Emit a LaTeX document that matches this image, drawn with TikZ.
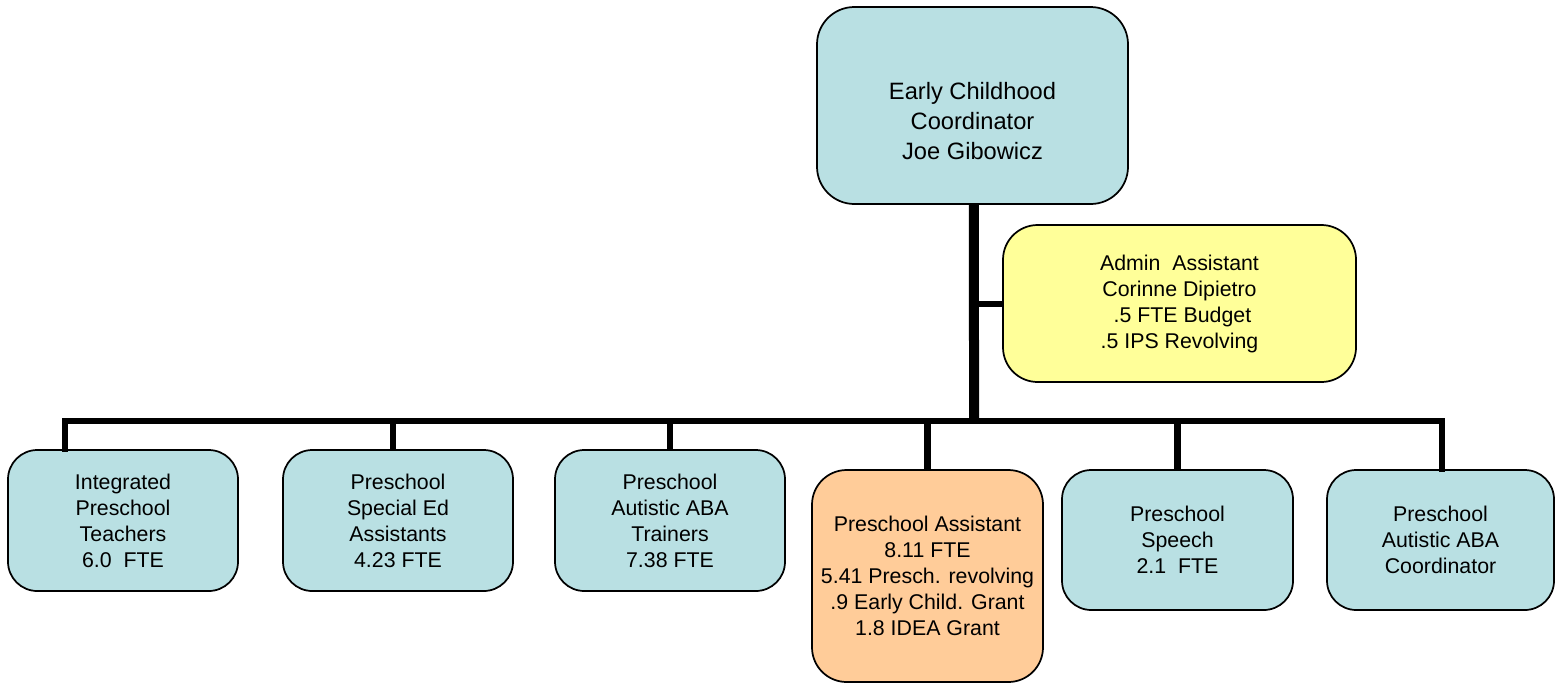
\documentclass[tikz,border=0pt]{standalone}
\usepackage{fontspec}
\setmainfont{Liberation Sans}
\usetikzlibrary{calc}
\definecolor{boxblue}{RGB}{185,224,227}
\definecolor{boxyellow}{RGB}{255,255,153}
\definecolor{boxorange}{RGB}{255,204,153}
\tikzset{
  box/.style={draw=black, line width=1.3pt, rounded corners=22pt, align=center, inner sep=0pt,
              font=\fontsize{16pt}{19.5pt}\selectfont},
  conn/.style={draw=black, line width=4.5pt, line join=miter, line cap=rect},
  mainconn/.style={draw=black, line width=7.5pt},
}
\begin{document}
\begin{tikzpicture}[x=0.75pt,y=-0.75pt]
\useasboundingbox (0,0) rectangle (1556,683);
% top box
\node[box, fill=boxblue, rounded corners=28pt, minimum width=233.25pt, minimum height=147.75pt] (top) at (972.5,105.5) {};
\node[align=center, font=\fontsize{17.75pt}{22.5pt}\selectfont] (toptext) at (972.5,121) {Early Childhood\\Coordinator\\Joe Gibowicz};
% admin
\node[box, fill=boxyellow, rounded corners=26pt, minimum width=264.75pt, minimum height=117.75pt] (admin) at (1179.5,303.5)
  {Admin\ \ Assistant\\Corinne Dipietro\\\ .5 FTE Budget\\.5 IPS Revolving};
% bottom boxes
\node[box, fill=boxblue, minimum width=172.5pt, minimum height=105.75pt] (b1) at (123,520.5)
  {Integrated\\Preschool\\Teachers\\6.0\ \ FTE};
\node[box, fill=boxblue, minimum width=172.5pt, minimum height=105.75pt] (b2) at (398,520.5)
  {Preschool\\Special Ed\\Assistants\\4.23 FTE};
\node[box, fill=boxblue, minimum width=172.5pt, minimum height=105.75pt] (b3) at (670,520.5)
  {Preschool\\Autistic ABA\\Trainers\\7.38 FTE};
\node[box, fill=boxorange, rounded corners=26pt, minimum width=173.25pt, minimum height=159pt] (b4) at (927.5,576)
  {Preschool Assistant\\8.11 FTE\\5.41 Presch. revolving\\.9 Early Child. Grant\\1.8 IDEA Grant};
\node[box, fill=boxblue, minimum width=173.25pt, minimum height=105pt] (b5) at (1177.5,540)
  {Preschool\\Speech\\2.1\ \ FTE};
\node[box, fill=boxblue, minimum width=170.25pt, minimum height=105pt] (b6) at (1440.5,540)
  {Preschool\\Autistic ABA\\Coordinator};
% connectors
\coordinate (j) at (974,421);
\coordinate (d1) at ($(b1.north west)!0.25!(b1.north east)$);
\coordinate (d2) at ([xshift=-3.75pt]b2.north);
\coordinate (d6) at ([xshift=1pt]b6.north);
\draw[conn, line width=5pt] (d1) |- (j) -| (d6);
\draw[conn, line width=5pt, line cap=butt] (d2) -- (d2 |- j);
\draw[conn, line width=5pt, line cap=butt] (b3.north) -- (b3.north |- j);
\draw[conn, line width=5pt, line cap=butt] (b4.north) -- (b4.north |- j);
\draw[conn, line width=5pt, line cap=butt] (b5.north) -- (b5.north |- j);
\draw[conn, line cap=butt] (admin.west) -- (admin.west -| j);
\draw[mainconn] ([xshift=1.1pt]top.south) -- ([yshift=-1.5pt]j);
\end{tikzpicture}
\end{document}
